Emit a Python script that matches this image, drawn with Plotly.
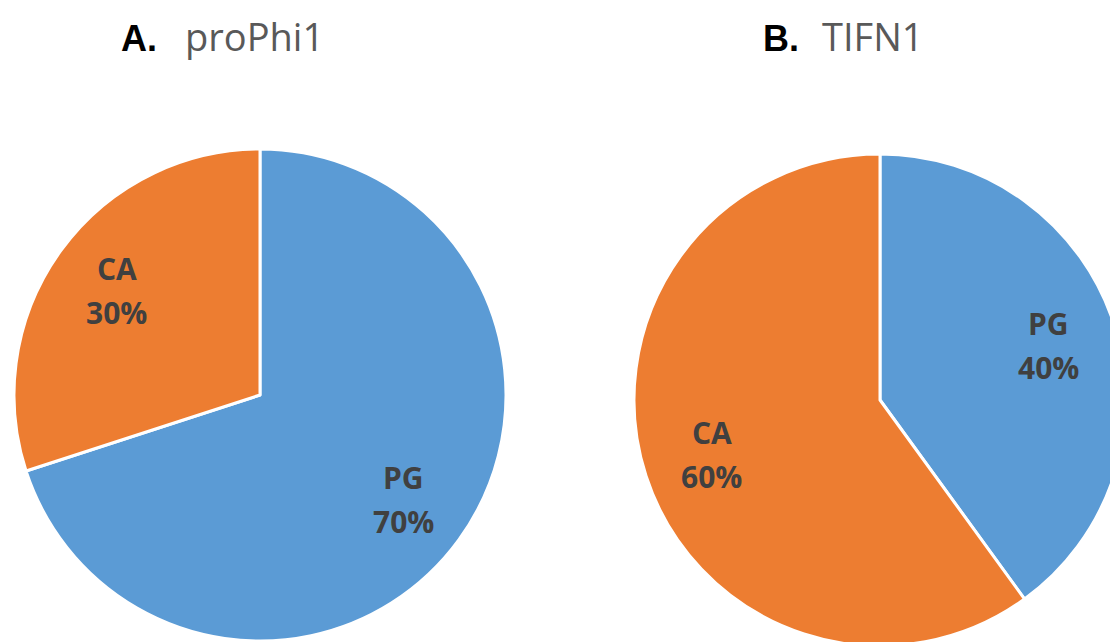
import math
import plotly.graph_objects as go

labels_a = ["PG", "CA"]
values_a = [70, 30]
labels_b = ["PG", "CA"]
values_b = [40, 60]
colors = ["#5B9BD5", "#ED7D31"]
W, H = 1118, 642
OFF = 8  # page body margin offset

fig = go.Figure()


def add_pie(labels, values, x0, x1, y0, y1):
    # x0..y1 given in page pixels; convert to figure pixels
    fx0, fx1, fy0, fy1 = x0 - OFF, x1 - OFF, y0 - OFF, y1 - OFF
    fig.add_trace(go.Pie(
        labels=labels, values=values, sort=False, direction="clockwise", rotation=0,
        marker=dict(colors=colors, line=dict(color="white", width=3)),
        textinfo="none",
        domain=dict(x=[fx0 / W, fx1 / W], y=[(H - fy1) / H, (H - fy0) / H]),
        showlegend=False, hoverinfo="label+percent",
    ))
    cx, cy = (fx0 + fx1) / 2, (fy0 + fy1) / 2
    r = min(fx1 - fx0, fy1 - fy0) / 2
    total = sum(values)
    start = 0.0
    for lab, v in zip(labels, values):
        mid = (start + v / 2) / total * 2 * math.pi
        start += v
        tx = cx + 0.72 * r * math.sin(mid)
        ty = cy - 0.72 * r * math.cos(mid)
        for txt, shift in ((lab, 22), (f"{round(100 * v / total)}%", -22)):
            fig.add_annotation(
                x=tx / W, y=(H - ty) / H, xref="paper", yref="paper",
                xanchor="center", yanchor="middle", yshift=shift, showarrow=False,
                text=f"<b>{txt}</b>",
                font=dict(family="Open Sans", size=30, color="#404040"),
            )


add_pie(labels_a, values_a, 14, 506, 149, 641)
add_pie(labels_b, values_b, 634, 1126, 154, 646)


def title(x_letter, x_name, letter, name):
    fig.add_annotation(
        x=(x_letter - OFF) / W, y=(H - 53) / H, xref="paper", yref="paper",
        xanchor="left", yanchor="bottom", showarrow=False,
        text=f"<b>{letter}</b>",
        font=dict(family="Liberation Sans", size=36, color="#000000"),
    )
    fig.add_annotation(
        x=(x_name - OFF) / W, y=(H - 56) / H, xref="paper", yref="paper",
        xanchor="left", yanchor="bottom", showarrow=False,
        text=name,
        font=dict(family="Open Sans", size=38, color="#595959"),
    )


title(119, 183, "A.", "proPhi1")
title(761, 820, "B.", "TIFN1")

fig.update_layout(width=W, height=H, margin=dict(l=0, r=0, t=0, b=0),
                  paper_bgcolor="white", plot_bgcolor="white")
fig.write_html("out.html")
